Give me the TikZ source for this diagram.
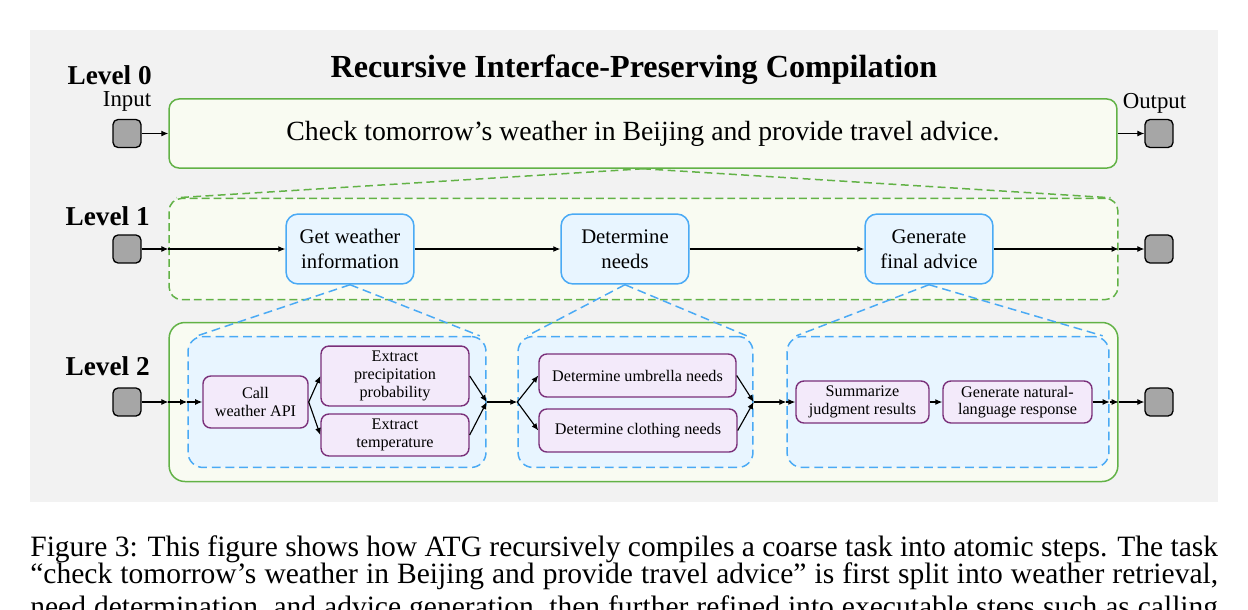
\documentclass[tikz,border=0pt]{standalone}
\usepackage{fontspec}
\setmainfont{Liberation Serif}
\usetikzlibrary{arrows.meta,calc}

\definecolor{bggray}{RGB}{242,242,242}
\definecolor{portgray}{RGB}{166,166,166}
\definecolor{lvlgreen}{RGB}{98,178,70}
\definecolor{lvlfill}{RGB}{249,251,242}
\definecolor{stageblue}{RGB}{74,170,245}
\definecolor{stagefill}{RGB}{232,245,255}
\definecolor{atompurple}{RGB}{122,48,122}
\definecolor{atomfill}{RGB}{243,234,250}

\begin{document}
\begin{tikzpicture}[x=0.02cm, y=-0.02cm,
    lvl/.style={anchor=base east, inner sep=0pt, font=\fontsize{15.5pt}{18pt}\selectfont\bfseries},
    iolabel/.style={anchor=base, inner sep=0pt, font=\fontsize{13pt}{15pt}\selectfont},
    port/.style={draw=black, fill=portgray, line width=0.75pt, rounded corners=2.8pt, minimum size=15.9pt, inner sep=0pt},
    taskbox/.style={draw=lvlgreen, fill=lvlfill, line width=0.85pt, rounded corners=5.7pt, inner sep=0pt, font=\fontsize{15.8pt}{19pt}\selectfont},
    levelbox/.style={draw=lvlgreen, fill=lvlfill, line width=0.85pt, rounded corners=7pt, minimum width=540pt, inner sep=0pt},
    stage/.style={draw=stageblue, fill=stagefill, line width=0.85pt, rounded corners=6.8pt, minimum width=72.8pt, minimum height=39.8pt, align=center, inner sep=1pt, font=\fontsize{11.8pt}{14.2pt}\selectfont},
    group/.style={draw=stageblue, fill=stagefill, line width=0.85pt, dash pattern=on 5pt off 2.8pt, rounded corners=8.5pt, minimum height=74.5pt, inner sep=0pt},
    atom/.style={draw=atompurple, fill=atomfill, line width=0.8pt, rounded corners=4.5pt, align=center, inner sep=1pt, font=\fontsize{9.2pt}{10pt}\selectfont},
    flow/.style={-{Latex[length=4pt,width=3.4pt]}, line width=0.65pt},
    greenlink/.style={draw=lvlgreen, line width=0.85pt, dash pattern=on 4.5pt off 2.5pt},
    bluelink/.style={draw=stageblue, line width=0.85pt, dash pattern=on 5pt off 2.8pt},
    capline/.style={anchor=base west, inner sep=0pt, font=\fontsize{16.8pt}{20pt}\selectfont}
]
    \useasboundingbox (0,0) rectangle (1248,609);

    % Background
    \fill[bggray] (30,30) rectangle (1218,502);

    % Title
    \node[anchor=base, inner sep=0pt, font=\fontsize{18.3pt}{22pt}\selectfont\bfseries] (title) at (634,77) {Recursive Interface-Preserving Compilation};

    % Level 0
    \node[lvl] (lab0) at (152,84) {Level 0};
    \node[iolabel] (inlab) at (127,106) {Input};
    \node[iolabel] (outlab) at (1154.5,108) {Output};
    \node[port] (in0) at (127,133.5) {};
    \node[port] (out0) at (1159,133.5) {};
    \node[taskbox, minimum width=539.5pt, minimum height=39.3pt] (task) at (643,133.5) {Check tomorrow’s weather in Beijing and provide travel advice.};

    % Level 1
    \node[lvl] (lab1) at (150,225) {Level 1};
    \node[port] (in1) at (127,249) {};
    \node[port] (out1) at (1159,249) {};
    \node[levelbox, minimum height=57.5pt, dash pattern=on 4.5pt off 2.3pt] (lvl1) at (643.5,249) {};
    \node[stage] (get) at (350,249) {Get weather\\information};
    \node[stage] (need) at (625,249) {Determine\\needs};
    \node[stage] (advice) at (929,249) {Generate\\final advice};

    % Level 2
    \node[lvl] (lab2) at (150,375) {Level 2};
    \node[port] (in2) at (127,402) {};
    \node[port] (out2) at (1159,402) {};
    \node[levelbox, minimum height=90.5pt, rounded corners=9pt] (lvl2) at (643.5,402) {};
    \node[group, minimum width=169.6pt] (grpA) at (337,402) {};
    \node[group, minimum width=133.7pt] (grpB) at (635.5,402) {};
    \node[group, minimum width=183.2pt] (grpC) at (948,402) {};
    \node[atom, minimum width=59.8pt, minimum height=29.6pt] (api) at (255.5,402) {Call\\weather API};
    \node[atom, minimum width=84.2pt, minimum height=34.1pt] (rain) at (395,376) {Extract\\precipitation\\probability};
    \node[atom, minimum width=84.2pt, minimum height=23.9pt] (temp) at (395,435) {Extract\\temperature};
    \node[atom, minimum width=112.1pt, minimum height=24.5pt] (umbrella) at (637.5,375.5) {Determine umbrella needs};
    \node[atom, minimum width=112.7pt, minimum height=24.5pt] (clothing) at (638,430.5) {Determine clothing needs};
    \node[atom, minimum width=75.7pt, minimum height=23.9pt] (summary) at (862.5,402) {Summarize\\judgment results};
    \node[atom, minimum width=84.8pt, minimum height=23.9pt] (reply) at (1017.5,402) {Generate natural-\\language response};

    % Arrows
    \draw[flow] (in0) -- (task);
    \draw[flow] (task) -- (out0);
    \draw[flow] (in1) -- (lvl1);
    \draw[flow] (lvl1.west) -- (get);
    \draw[flow] (get) -- (need);
    \draw[flow] (need) -- (advice);
    \draw[flow] (advice) -- (lvl1.east);
    \draw[flow] (lvl1.east) -- (out1);
    \draw[flow] (in2) -- (lvl2);
    \draw[flow] (lvl2.west) -- (grpA.west);
    \draw[flow] (grpA.west) -- (api);
    \draw[flow] (api.east) -- (rain.west);
    \draw[flow] (api.east) -- (temp.west);
    \draw[flow] (rain.east) -- (grpA.east);
    \draw[flow] (temp.east) -- (grpA.east);
    \draw[flow] (grpA.east) -- (grpB.west);
    \draw[flow] (grpB.west) -- (umbrella.west);
    \draw[flow] (grpB.west) -- (clothing.west);
    \draw[flow] (umbrella.east) -- (grpB.east);
    \draw[flow] (clothing.east) -- (grpB.east);
    \draw[flow] (grpB.east) -- (grpC.west);
    \draw[flow] (grpC.west) -- (summary);
    \draw[flow] (summary) -- (reply);
    \draw[flow] (reply) -- (grpC.east);
    \draw[flow] (grpC.east) -- (lvl2.east);
    \draw[flow] (lvl2.east) -- (out2);

    % Dashed links between levels
    \draw[greenlink] (task.south) -- ($(lvl1.north west)+(8,0)$);
    \draw[greenlink] (task.south) -- ($(lvl1.north east)+(-8,0)$);
    \foreach \s/\g in {get/grpA, need/grpB, advice/grpC} {
        \draw[bluelink] (\s.south) -- ($(\g.north west)+(10,0)$);
        \draw[bluelink] (\s.south) -- ($(\g.north east)+(-7,0)$);
    }

    % Caption
    \node[capline] (cap1) at (30,556.7) {\hbox to 676pt{Figure 3: This figure shows how ATG recursively compiles a coarse task into atomic steps. The task}};
    \node[capline] (cap2) at (30,583.3) {\hbox to 676pt{“check tomorrow’s weather in Beijing and provide travel advice” is first split into weather retrieval,}};
    \node[capline] (cap3) at (30,616) {\hbox to 676pt{need determination, and advice generation, then further refined into executable steps such as calling}};
\end{tikzpicture}
\end{document}
